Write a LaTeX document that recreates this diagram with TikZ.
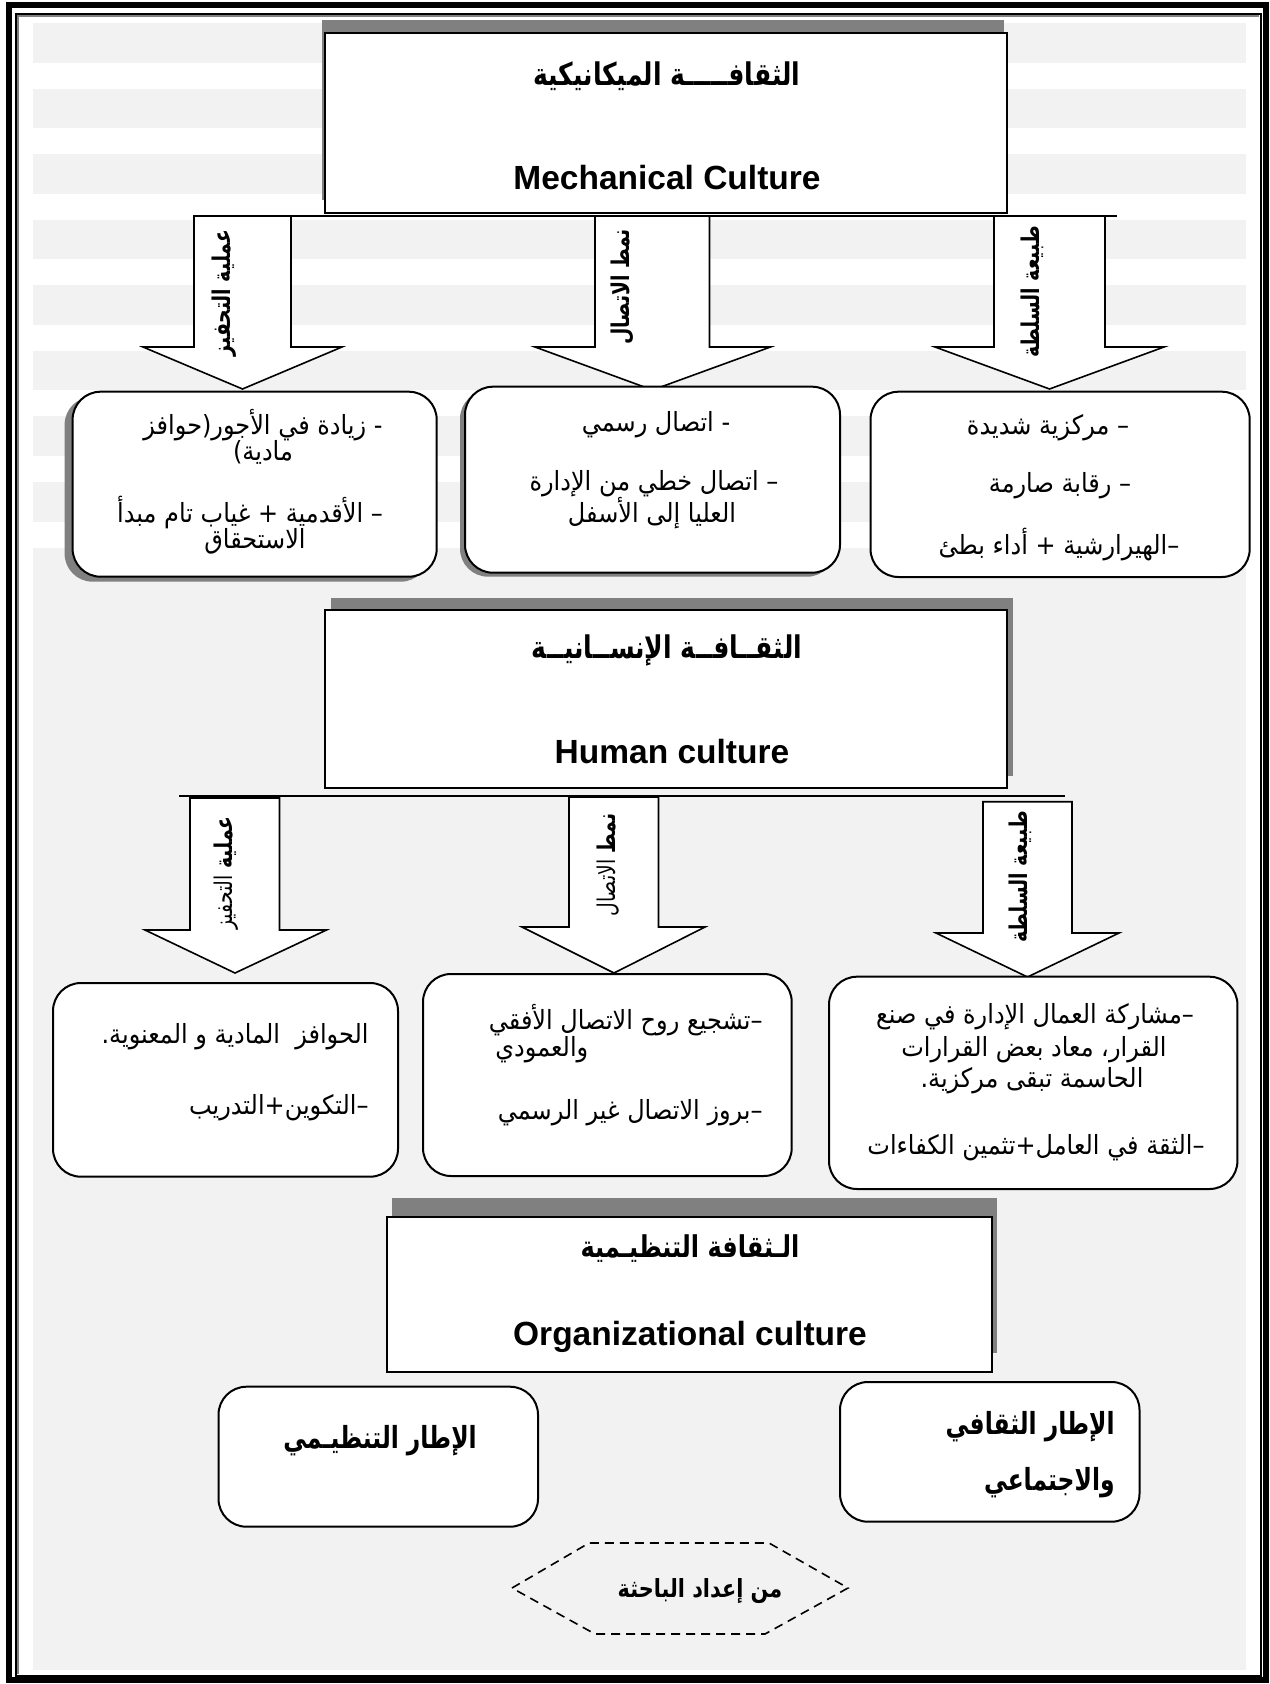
\documentclass[tikz,border=0pt]{standalone}
\usepackage{fontspec}
\setmainfont{Liberation Sans}
\newfontfamily\arfont[Script=Arabic]{DejaVu Sans}
\TeXXeTstate=1
\usetikzlibrary{fit,shadows}
\definecolor{bandgray}{RGB}{242,242,242}
\definecolor{shadegray}{RGB}{128,128,128}
% right-to-left text, drawn a little taller than the font's own proportions
\newcommand\tallrtl[2][1.25]{\scalebox{1}[#1]{\beginR #2\endR}}
\newcommand\rtl[1]{\tallrtl[1.1]{#1}}
\begin{document}
\begin{tikzpicture}[x=0.5pt,y=-0.5pt,
  titlebox/.style 2 args={draw, line width=1pt, fill=white, inner sep=0pt,
     drop shadow={shadow xshift=#1, shadow yshift=#2, fill=shadegray, opacity=1}},
  roundbox/.style={draw, line width=1pt, fill=white, rounded corners=14pt, inner sep=0pt},
  boxshade/.style 2 args={drop shadow={shadow xshift=#1, shadow yshift=#2, fill=shadegray, opacity=1}},
  blockarrow/.style={draw, line width=0.8pt, fill=white, line join=miter},
  joinline/.style={line width=0.8pt},
  artitle/.style={font=\arfont\bfseries\fontsize{12.5}{15}\selectfont, inner sep=0pt},
  entitle/.style={font=\bfseries\fontsize{16.75}{20}\selectfont, inner sep=0pt, anchor=base},
  arrowtag/.style={font=\arfont\bfseries\fontsize{9.4}{11}\selectfont, inner sep=0pt, rotate=90},
  bodyline/.style={font=\arfont\fontsize{12}{14}\selectfont, inner sep=0pt},
  boldline/.style={font=\arfont\bfseries\fontsize{11.7}{14}\selectfont, inner sep=0pt},
  credit/.style={font=\arfont\bfseries\fontsize{10.4}{12}\selectfont, inner sep=0pt},
]
\useasboundingbox (0,0) rectangle (1269,1684);

% page background: white with light bands at the top, then solid light grey
\fill[white] (0,0) rectangle (1269,1684);
\fill[bandgray] (33,23) rectangle (1246,1670);
\foreach \k in {0,...,7}
  \fill[white] (33,{63+65.5*\k}) rectangle (1246,{89+65.5*\k});

% double page border
\draw[line width=3pt] (8.5,5.5) rectangle (1266,1680);
\draw[line width=1pt] (16,14) rectangle (1261,1676);
\draw[gray, line width=0.8pt] (17.8,1674) -- (17.8,15.8) -- (1259,15.8);

% ---------- mechanical culture ----------
\node[titlebox={-1.5pt}{6.5pt}, fit={(325,33) (1007,213)}] (mech) {};
\node[artitle] (mechar) at (667,76) {\tallrtl{الثقافـــــة الميكانيكية}};
\node[entitle] (mechen) at (667,190) {Mechanical Culture};

\coordinate (mbarL) at (194,216);
\coordinate (mbarR) at (1117,216);
\draw[joinline] (mbarL) -- (mbarR);

\draw[blockarrow] (194,216) -- (194,347) -- (143,347) -- (242.5,389) -- (342,347) -- (291,347) -- (291,216) -- cycle;
\draw[blockarrow] (595,216) -- (595,347) -- (535,347) -- (652.5,390) -- (770.5,347) -- (709.5,347) -- (709.5,216) -- cycle;
\draw[blockarrow] (994,216) -- (994,347) -- (935,347) -- (1049.5,389) -- (1164,347) -- (1105,347) -- (1105,216) -- cycle;
\node[arrowtag] (mtag1) at (224,293) {\tallrtl[1.3]{عملية التحفيز}};
\node[arrowtag] (mtag2) at (622,287) {\tallrtl[1.3]{نمط الاتصال}};
\node[arrowtag] (mtag3) at (1032,292) {\tallrtl[1.3]{طبيعة السلطة}};

\node[roundbox, boxshade={-4pt}{-2.5pt}, fit={(72.6,391.7) (436.7,576.7)}] (mbox1) {};
\node[roundbox, boxshade={-2.5pt}{-2pt}, fit={(465,386.7) (840,572.7)}] (mbox2) {};
\node[roundbox, fit={(870.5,391.7) (1249.7,577)}] (mbox3) {};

\node[bodyline] (m1a) at (263,425) {\rtl{- زيادة في الأجور(حوافز}};
\node[bodyline] (m1b) at (263,452) {\rtl{مادية)}};
\node[bodyline] (m1c) at (250,512) {\rtl{– الأقدمية + غياب تام مبدأ}};
\node[bodyline] (m1d) at (255,541) {\rtl{الاستحقاق}};

\node[bodyline] (m2a) at (656,425) {\rtl{- اتصال رسمي}};
\node[bodyline] (m2b) at (654,484) {\rtl{– اتصال خطي من الإدارة}};
\node[bodyline] (m2c) at (652,513) {\rtl{العليا إلى الأسفل}};

\node[bodyline] (m3a) at (1048,428) {\rtl{– مركزية شديدة}};
\node[bodyline] (m3b) at (1060,486) {\rtl{– رقابة صارمة}};
\node[bodyline] (m3c) at (1059,545) {\rtl{–الهيرارشية + أداء بطئ}};

% ---------- human culture ----------
\node[titlebox={2.75pt}{6.25pt}, fit={(325,610) (1007,788)}] (hum) {};
\node[artitle] (humar) at (667,650) {\tallrtl{الثقــافــة الإنســانيــة}};
\node[entitle] (humen) at (672,763) {Human culture};

\coordinate (hbarL) at (179,796);
\coordinate (hbarR) at (1065,796);
\draw[joinline] (hbarL) -- (hbarR);

\draw[blockarrow] (190,798) -- (190,930) -- (145,930) -- (235,973) -- (326.5,930) -- (279.5,930) -- (279.5,798) -- cycle;
\draw[blockarrow] (569,797) -- (569,927) -- (522,927) -- (614,973) -- (705,927) -- (658.5,927) -- (658.5,797) -- cycle;
\draw[blockarrow] (983,801.7) -- (983,933) -- (936,933) -- (1027.5,977) -- (1119,933) -- (1072,933) -- (1072,801.7) -- cycle;
\node[arrowtag] (htag1) at (226,873) {\tallrtl[1.3]{عملية {\mdseries التحفيز}}};
\node[arrowtag] (htag2) at (608,865) {\tallrtl[1.3]{نمط {\mdseries الاتصال}}};
\node[arrowtag] (htag3) at (1020,877) {\tallrtl[1.3]{طبيعة السلطة}};

\node[roundbox, fit={(53,983) (398,1176.7)}] (hbox1) {};
\node[roundbox, fit={(423,974) (791.7,1176)}] (hbox2) {};
\node[roundbox, fit={(829,976.7) (1237.4,1189)}] (hbox3) {};

\node[bodyline, anchor=east] (h1a) at (369,1037) {\rtl{الحوافز\ \ المادية و المعنوية.}};
\node[bodyline, anchor=east] (h1b) at (369,1108) {\rtl{–التكوين+التدريب}};

\node[bodyline, anchor=east] (h2a) at (763,1020) {\rtl{–تشجيع روح الاتصال الأفقي}};
\node[bodyline, anchor=west] (h2b) at (495,1050) {\rtl{والعمودي}};
\node[bodyline, anchor=east] (h2c) at (763,1113) {\rtl{–بروز الاتصال غير الرسمي}};

\node[bodyline] (h3a) at (1035,1017) {\rtl{–مشاركة العمال الإدارة في صنع}};
\node[bodyline] (h3b) at (1034,1050) {\rtl{القرار، معاد بعض القرارات}};
\node[bodyline] (h3c) at (1032,1081) {\rtl{الحاسمة تبقى مركزية.}};
\node[bodyline] (h3d) at (1036,1148) {\rtl{–الثقة في العامل+تثمين الكفاءات}};

% ---------- organizational culture ----------
\node[titlebox={2.5pt}{9.5pt}, fit={(387,1217) (992,1372)}] (org) {};
\node[artitle, font=\arfont\bfseries\fontsize{12}{14}\selectfont] (orgar) at (690,1249) {\tallrtl{الـثقافة التنظيـمية}};
\node[entitle] (orgen) at (690,1345) {Organizational culture};

\node[roundbox, fit={(218.5,1386.7) (538,1526.7)}] (obox1) {};
\node[roundbox, fit={(840,1382) (1139.5,1521.7)}] (obox2) {};
\node[boldline] (o1) at (380,1441) {\tallrtl[1.3]{الإطار التنظيـمي}};
\node[boldline, anchor=east] (o2a) at (1115,1427) {\tallrtl[1.3]{الإطار الثقافي}};
\node[boldline, anchor=east] (o2b) at (1115,1483) {\tallrtl[1.3]{والاجتماعي}};

% source note in a dashed hexagon
\draw[line width=0.8pt, dash pattern=on 4.5pt off 3pt]
  (512,1588) -- (589,1543) -- (769,1543) -- (848,1588) -- (765,1634) -- (595,1634) -- cycle;
\node[credit] (src) at (700,1591) {\tallrtl[1.2]{من إعداد الباحثة}};
\end{tikzpicture}
\end{document}
